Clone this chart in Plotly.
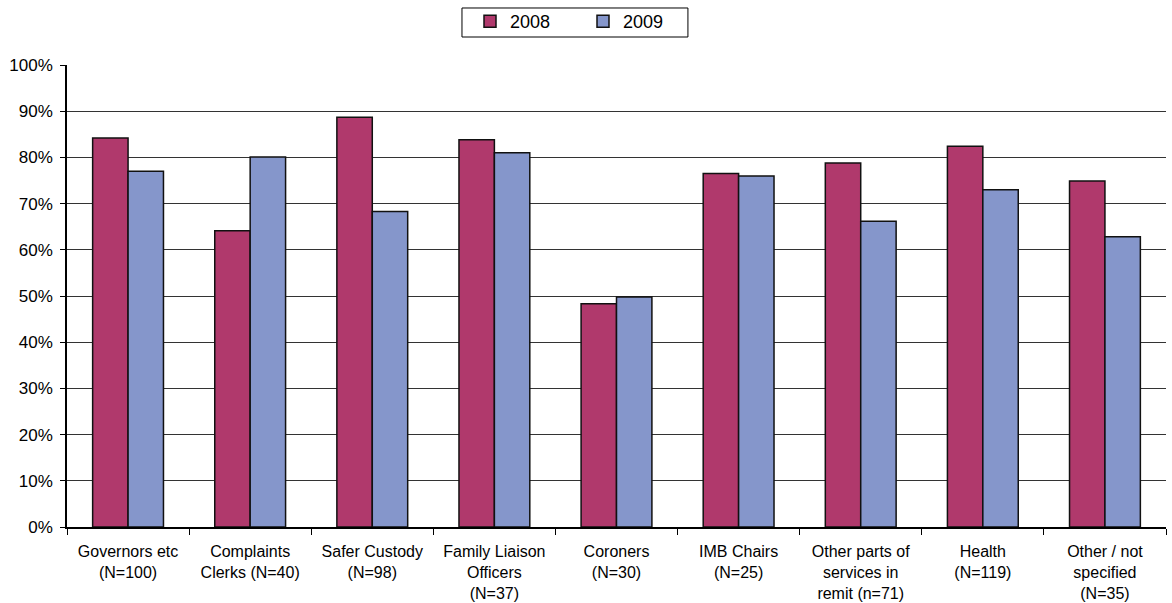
import plotly.graph_objects as go

categories = ["Governors etc<br>(N=100)", "Complaints<br>Clerks (N=40)", "Safer Custody<br>(N=98)",
              "Family Liaison<br>Officers<br>(N=37)", "Coroners<br>(N=30)", "IMB Chairs<br>(N=25)",
              "Other parts of<br>services in<br>remit (n=71)", "Health<br>(N=119)", "Other / not<br>specified<br>(N=35)"]
values_2008 = [0.842, 0.641, 0.887, 0.838, 0.483, 0.765, 0.788, 0.824, 0.749]
values_2009 = [0.770, 0.801, 0.683, 0.810, 0.498, 0.760, 0.662, 0.730, 0.628]
yticks = [0, 0.1, 0.2, 0.3, 0.4, 0.5, 0.6, 0.7, 0.8, 0.9, 1.0]

FONT = "Liberation Sans, Arial, sans-serif"

fig = go.Figure()
fig.add_trace(go.Bar(name="2008", x=categories, y=values_2008,
                     marker=dict(color="#B0396C", line=dict(color="#111111", width=1.5))))
fig.add_trace(go.Bar(name="2009", x=categories, y=values_2009,
                     marker=dict(color="#8596CB", line=dict(color="#111111", width=1.5))))

# legend frame
fig.add_shape(type="rect", xref="paper", yref="paper", x0=0.3594, x1=0.5650, y0=1.0606, y1=1.1234,
              line=dict(color="#000000", width=1), fillcolor="rgba(0,0,0,0)", layer="above")

fig.update_layout(
    width=1172, height=603,
    margin=dict(l=67, r=6, t=65, b=76),
    paper_bgcolor="white", plot_bgcolor="white",
    barmode="group", bargap=0.42, bargroupgap=0,
    font=dict(family=FONT, size=17, color="#000000"),
    legend=dict(orientation="h", x=0.3667, xanchor="left", y=0.995, yref="container", yanchor="top",
                borderwidth=0, bgcolor="rgba(0,0,0,0)",
                font=dict(size=18), itemwidth=30, entrywidth=68),
    xaxis=dict(showline=True, linecolor="#000000", linewidth=1.5, ticks="outside", tickson="boundaries",
               ticklen=6, tickcolor="#000000", tickangle=0, showgrid=False, automargin=False,
               tickfont=dict(size=16), ticklabelstandoff=9),
    yaxis=dict(range=[0, 1.0], tickvals=yticks, tickformat=".0%", showline=True, linecolor="#000000",
               linewidth=1.5, ticks="outside", ticklen=5, tickcolor="#000000", showgrid=True,
               gridcolor="#333333", gridwidth=1, zeroline=False, tickfont=dict(size=17),
               ticklabelstandoff=4, automargin=False),
)

fig.write_html("out.html")
